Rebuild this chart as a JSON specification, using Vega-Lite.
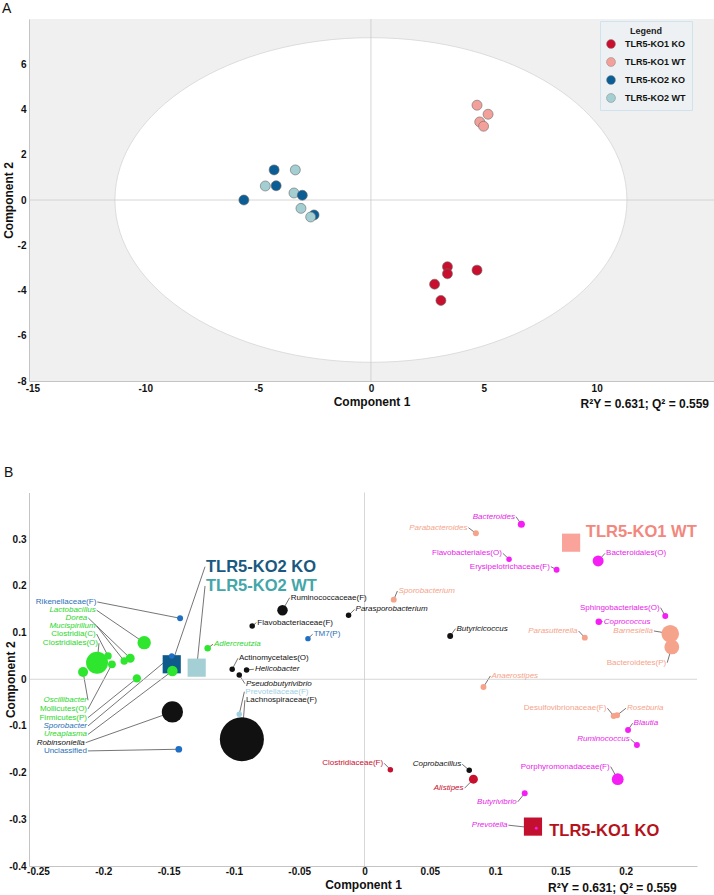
{
  "$schema": "https://vega.github.io/schema/vega-lite/v6.json",
  "background": "white",
  "padding": {"left": 2, "top": 1, "right": 0, "bottom": 0},
  "bounds": "flush",
  "spacing": 111.5,
  "config": {
    "font": "Liberation Sans",
    "axis": {"labelFont": "Liberation Sans", "labelFontWeight": "bold", "labelFontSize": 10, "labelColor": "#111", "titleFont": "Liberation Sans", "titleFontWeight": "bold", "titleFontSize": 12, "titleColor": "#111", "ticks": false, "grid": false, "domainColor": "#c4c4c4"},
    "title": {"font": "Liberation Sans", "color": "#111"},
    "text": {"font": "Liberation Sans"}
  },
  "datasets": {
    "a": [
      {"g": "TLR5-KO1 KO", "c1": 3.39, "c2": -2.95},
      {"g": "TLR5-KO1 KO", "c1": 3.39, "c2": -3.26},
      {"g": "TLR5-KO1 KO", "c1": 4.70, "c2": -3.10},
      {"g": "TLR5-KO1 KO", "c1": 2.82, "c2": -3.72},
      {"g": "TLR5-KO1 KO", "c1": 3.10, "c2": -4.44},
      {"g": "TLR5-KO1 WT", "c1": 4.70, "c2": 4.19},
      {"g": "TLR5-KO1 WT", "c1": 5.19, "c2": 3.79},
      {"g": "TLR5-KO1 WT", "c1": 4.82, "c2": 3.45},
      {"g": "TLR5-KO1 WT", "c1": 4.99, "c2": 3.26},
      {"g": "TLR5-KO2 KO", "c1": -4.29, "c2": 1.33},
      {"g": "TLR5-KO2 KO", "c1": -4.20, "c2": 0.63},
      {"g": "TLR5-KO2 KO", "c1": -5.63, "c2": 0.0},
      {"g": "TLR5-KO2 KO", "c1": -2.52, "c2": -0.66},
      {"g": "TLR5-KO2 WT", "c1": -3.35, "c2": 1.33},
      {"g": "TLR5-KO2 WT", "c1": -4.68, "c2": 0.62},
      {"g": "TLR5-KO2 WT", "c1": -3.41, "c2": 0.31},
      {"g": "TLR5-KO2 KO", "c1": -3.04, "c2": 0.21},
      {"g": "TLR5-KO2 WT", "c1": -3.10, "c2": -0.37},
      {"g": "TLR5-KO2 WT", "c1": -2.67, "c2": -0.75}
    ],
    "taxa": [
      {"name": "Rikenellaceae(F)", "grp": "blue", "rank": "o", "side": "l", "x": -0.1412, "y": 0.1306, "vip": 0.35, "lx": -0.2046, "ly": 0.1655},
      {"name": "Lactobacillus", "grp": "green", "rank": "g", "side": "l", "x": -0.1687, "y": 0.0784, "vip": 1.8, "lx": -0.2051, "ly": 0.1478},
      {"name": "Dorea", "grp": "green", "rank": "g", "side": "l", "x": -0.1794, "y": 0.045, "vip": 0.8, "lx": -0.2115, "ly": 0.1312},
      {"name": "Mucispirillum", "grp": "green", "rank": "g", "side": "l", "x": -0.184, "y": 0.039, "vip": 0.55, "lx": -0.2051, "ly": 0.1142},
      {"name": "Clostridia(C)", "grp": "green", "rank": "o", "side": "l", "x": -0.1964, "y": 0.05, "vip": 0.55, "lx": -0.2051, "ly": 0.0968},
      {"name": "Clostridiales(O)", "grp": "green", "rank": "o", "side": "l", "x": -0.2048, "y": 0.0355, "vip": 4.8, "lx": -0.2033, "ly": 0.0771},
      {"name": "Oscillibacter", "grp": "green", "rank": "g", "side": "l", "x": -0.2155, "y": 0.0156, "vip": 1.0, "lx": -0.2117, "ly": -0.045},
      {"name": "Mollicutes(O)", "grp": "green", "rank": "o", "side": "l", "x": -0.1934, "y": 0.032, "vip": 0.6, "lx": -0.2117, "ly": -0.0636},
      {"name": "Firmicutes(P)", "grp": "green", "rank": "o", "side": "l", "x": -0.1743, "y": 0.002, "vip": 0.68, "lx": -0.2117, "ly": -0.0822},
      {"name": "Sporobacter", "grp": "blue", "rank": "g", "side": "l", "x": -0.1476, "y": 0.05, "vip": 0.3, "lx": -0.2117, "ly": -0.1},
      {"name": "Ureaplasma", "grp": "green", "rank": "g", "side": "l", "x": -0.1471, "y": 0.0178, "vip": 1.1, "lx": -0.2117, "ly": -0.1182},
      {"name": "Robinsoniella", "grp": "black", "rank": "g", "side": "l", "x": -0.1471, "y": -0.07, "vip": 4.5, "lx": -0.2135, "ly": -0.1358},
      {"name": "Unclassified", "grp": "blue", "rank": "o", "side": "l", "x": -0.1422, "y": -0.1499, "vip": 0.45, "lx": -0.2117, "ly": -0.1535},
      {"name": "Adlercreutzia", "grp": "green", "rank": "g", "side": "r", "x": -0.1201, "y": 0.0664, "vip": 0.42, "lx": -0.116, "ly": 0.075},
      {"name": "Ruminococcaceae(F)", "grp": "black", "rank": "o", "side": "r", "x": -0.0628, "y": 0.1477, "vip": 1.1, "lx": -0.0573, "ly": 0.1747},
      {"name": "Flavobacteriaceae(F)", "grp": "black", "rank": "o", "side": "r", "x": -0.086, "y": 0.1141, "vip": 0.3, "lx": -0.0828, "ly": 0.1212},
      {"name": "Parasporobacterium", "grp": "black", "rank": "g", "side": "r", "x": -0.0122, "y": 0.137, "vip": 0.3, "lx": -0.0076, "ly": 0.1495},
      {"name": "TM7(P)", "grp": "blue", "rank": "o", "side": "r", "x": -0.0433, "y": 0.087, "vip": 0.3, "lx": -0.0397, "ly": 0.0964},
      {"name": "Actinomycetales(O)", "grp": "black", "rank": "o", "side": "r", "x": -0.1013, "y": 0.0214, "vip": 0.3, "lx": -0.0969, "ly": 0.045},
      {"name": "Helicobacter", "grp": "black", "rank": "g", "side": "r", "x": -0.0903, "y": 0.02, "vip": 0.3, "lx": -0.0847, "ly": 0.0214},
      {"name": "Pseudobutyrivibrio", "grp": "black", "rank": "g", "side": "r", "x": -0.0959, "y": 0.0092, "vip": 0.3, "lx": -0.0916, "ly": -0.0094},
      {"name": "Prevotellaceae(F)", "grp": "lightblue", "rank": "o", "side": "r", "x": -0.0959, "y": -0.075, "vip": 0.3, "lx": -0.092, "ly": -0.0268},
      {"name": "Lachnospiraceae(F)", "grp": "black", "rank": "o", "side": "r", "x": -0.0939, "y": -0.1285, "vip": 19.4, "lx": -0.0916, "ly": -0.0448},
      {"name": "Bacteroides", "grp": "magenta", "rank": "g", "side": "l", "x": 0.1201, "y": 0.3319, "vip": 0.5, "lx": 0.116, "ly": 0.3482},
      {"name": "Parabacteroides", "grp": "salmon", "rank": "g", "side": "l", "x": 0.0853, "y": 0.3126, "vip": 0.35, "lx": 0.0796, "ly": 0.3246},
      {"name": "Flavobacteriales(O)", "grp": "magenta", "rank": "o", "side": "l", "x": 0.1107, "y": 0.257, "vip": 0.3, "lx": 0.1059, "ly": 0.2698},
      {"name": "Erysipelotrichaceae(F)", "grp": "magenta", "rank": "o", "side": "l", "x": 0.1471, "y": 0.2347, "vip": 0.35, "lx": 0.1427, "ly": 0.2411},
      {"name": "Bacteroidales(O)", "grp": "magenta", "rank": "o", "side": "r", "x": 0.1789, "y": 0.2533, "vip": 1.2, "lx": 0.1842, "ly": 0.2698},
      {"name": "Sporobacterium", "grp": "salmon", "rank": "g", "side": "r", "x": 0.0224, "y": 0.1705, "vip": 0.35, "lx": 0.0252, "ly": 0.1891},
      {"name": "Sphingobacteriales(O)", "grp": "magenta", "rank": "o", "side": "l", "x": 0.2303, "y": 0.1355, "vip": 0.35, "lx": 0.2267, "ly": 0.1533},
      {"name": "Coprococcus", "grp": "magenta", "rank": "g", "side": "r", "x": 0.1794, "y": 0.1234, "vip": 0.42, "lx": 0.1824, "ly": 0.1234},
      {"name": "Barnesiella", "grp": "salmon", "rank": "g", "side": "l", "x": 0.2341, "y": 0.0976, "vip": 3.1, "lx": 0.2216, "ly": 0.1034},
      {"name": "Butyricicoccus", "grp": "black", "rank": "g", "side": "r", "x": 0.0656, "y": 0.0927, "vip": 0.35, "lx": 0.0697, "ly": 0.1084},
      {"name": "Parasutterella", "grp": "salmon", "rank": "g", "side": "l", "x": 0.1687, "y": 0.0891, "vip": 0.35, "lx": 0.1639, "ly": 0.1034},
      {"name": "Bacteroidetes(P)", "grp": "salmon", "rank": "o", "side": "l", "x": 0.2353, "y": 0.0692, "vip": 2.2, "lx": 0.2318, "ly": 0.0355},
      {"name": "Anaerostipes", "grp": "salmon", "rank": "g", "side": "r", "x": 0.0911, "y": -0.0165, "vip": 0.35, "lx": 0.0964, "ly": 0.0071},
      {"name": "Desulfovibrionaceae(F)", "grp": "salmon", "rank": "o", "side": "l", "x": 0.1908, "y": -0.0786, "vip": 0.35, "lx": 0.186, "ly": -0.0621},
      {"name": "Roseburia", "grp": "salmon", "rank": "g", "side": "r", "x": 0.1934, "y": -0.0771, "vip": 0.35, "lx": 0.2002, "ly": -0.0621},
      {"name": "Blautia", "grp": "magenta", "rank": "g", "side": "r", "x": 0.2018, "y": -0.1086, "vip": 0.35, "lx": 0.2053, "ly": -0.0942},
      {"name": "Ruminococcus", "grp": "magenta", "rank": "g", "side": "l", "x": 0.2086, "y": -0.1407, "vip": 0.35, "lx": 0.2038, "ly": -0.1285},
      {"name": "Clostridiaceae(F)", "grp": "crimson", "rank": "o", "side": "l", "x": 0.0198, "y": -0.1936, "vip": 0.3, "lx": 0.015, "ly": -0.1799},
      {"name": "Coprobacillus", "grp": "black", "rank": "g", "side": "l", "x": 0.0802, "y": -0.1949, "vip": 0.3, "lx": 0.0748, "ly": -0.182},
      {"name": "Alistipes", "grp": "crimson", "rank": "g", "side": "l", "x": 0.0834, "y": -0.2141, "vip": 0.8, "lx": 0.0766, "ly": -0.2334},
      {"name": "Porphyromonadaceae(F)", "grp": "magenta", "rank": "o", "side": "l", "x": 0.1939, "y": -0.2141, "vip": 1.4, "lx": 0.1885, "ly": -0.1872},
      {"name": "Butyrivibrio", "grp": "magenta", "rank": "g", "side": "l", "x": 0.1227, "y": -0.2441, "vip": 0.35, "lx": 0.1173, "ly": -0.2627},
      {"name": "Prevotella", "grp": "magenta", "rank": "g", "side": "l", "x": 0.1315, "y": -0.3191, "vip": 0.08, "lx": 0.1102, "ly": -0.3126}
    ],
    "groups": [
      {"name": "TLR5-KO2 KO", "x": -0.1476, "y": 0.0321, "lx": -0.1221, "ly": 0.2411, "lead": true},
      {"name": "TLR5-KO2 WT", "x": -0.1285, "y": 0.0248, "lx": -0.1221, "ly": 0.1998, "lead": true},
      {"name": "TLR5-KO1 WT", "x": 0.1582, "y": 0.2925, "lx": 0.1687, "ly": 0.316, "lead": false},
      {"name": "TLR5-KO1 KO", "x": 0.129, "y": -0.3156, "lx": 0.1407, "ly": -0.3248, "lead": false}
    ]
  },
  "vconcat": [
    {
      "width": 685,
      "height": 362,
      "view": {"fill": "#f0f0f0", "stroke": null},
      "title": {"text": "A", "anchor": "start", "fontSize": 14, "fontWeight": "normal", "offset": 3},
      "layer": [
        {
          "data": {"values": [{}]},
          "mark": {"type": "point", "shape": "M-1,0C-1,-0.3502,-0.5523,-0.634,0,-0.634C0.5523,-0.634,1,-0.3502,1,0C1,0.3502,0.5523,0.634,0,0.634C-0.5523,0.634,-1,0.3502,-1,0Z", "size": 262144, "filled": true, "fill": "#ffffff", "stroke": "#d6d6d6", "strokeWidth": 0.8, "opacity": 1},
          "encoding": {"x": {"datum": 0, "type": "quantitative"}, "y": {"datum": 0, "type": "quantitative"}}
        },
        {
          "data": {"values": [{}]},
          "mark": {"type": "rule", "color": "#cccccc", "strokeWidth": 0.8},
          "encoding": {"x": {"datum": 0, "type": "quantitative"}}
        },
        {
          "data": {"values": [{}]},
          "mark": {"type": "rule", "color": "#cccccc", "strokeWidth": 0.8},
          "encoding": {"y": {"datum": 0, "type": "quantitative"}}
        },
        {
          "data": {"name": "a"},
          "mark": {"type": "point", "filled": true, "size": 100, "stroke": "#6a6a6a", "strokeWidth": 0.6, "opacity": 1},
          "encoding": {
            "x": {"field": "c1", "type": "quantitative", "scale": {"domain": [-15.15, 15.2], "nice": false, "zero": false}, "axis": {"title": "Component 1", "values": [-15, -10, -5, 0, 5, 10], "labelExpr": "'' + datum.value", "labelPadding": 2, "titlePadding": 3}},
            "y": {"field": "c2", "type": "quantitative", "scale": {"domain": [-8, 8], "nice": false, "zero": false}, "axis": {"title": "Component 2", "values": [-8, -6, -4, -2, 0, 2, 4, 6], "labelExpr": "'' + datum.value", "labelPadding": 3, "titleX": -21, "titleBaseline": "middle"}},
            "fill": {"field": "g", "type": "nominal", "scale": {"domain": ["TLR5-KO1 KO", "TLR5-KO1 WT", "TLR5-KO2 KO", "TLR5-KO2 WT"], "range": ["#c8102e", "#f4a09a", "#0b5e95", "#a3cfd3"]},
              "legend": {"title": "Legend", "orient": "none", "legendX": 571, "legendY": 2, "direction": "vertical", "fillColor": "#eef1f4", "strokeColor": "#cfe2ee", "padding": 6, "titleFontSize": 9, "titleFontWeight": "bold", "titleAnchor": "middle", "titlePadding": 3, "titleColor": "#222", "labelFontSize": 9, "labelFontWeight": "bold", "labelColor": "#111", "symbolSize": 80, "symbolType": "circle", "symbolStrokeColor": "#888", "symbolStrokeWidth": 0.5, "rowPadding": 6, "labelOffset": 9}}
          }
        },
        {
          "data": {"values": [{}]},
          "mark": {"type": "text", "align": "right", "baseline": "middle", "dy": 23, "fontSize": 12, "fontWeight": "bold", "color": "#111", "text": "R²Y = 0.631; Q² = 0.559"},
          "encoding": {"x": {"datum": 14.98, "type": "quantitative"}, "y": {"datum": -8, "type": "quantitative"}}
        }
      ]
    },
    {
      "width": 668,
      "height": 373.5,
      "view": {"stroke": null},
      "title": {"text": "B", "anchor": "start", "fontSize": 14, "fontWeight": "normal", "offset": 12},
      "resolve": {"scale": {"color": "independent"}},
      "layer": [
        {
          "data": {"name": "taxa"},
          "mark": {"type": "rule", "color": "#3a3a3a", "strokeWidth": 0.7},
          "encoding": {
            "x": {"field": "x", "type": "quantitative", "scale": {"domain": [-0.2569, 0.2546], "nice": false, "zero": false}, "axis": {"title": "Component 1", "values": [-0.25, -0.2, -0.15, -0.1, -0.05, 0, 0.05, 0.1, 0.15, 0.2], "labelExpr": "'' + datum.value", "labelPadding": 0, "titlePadding": 3}},
            "y": {"field": "y", "type": "quantitative", "scale": {"domain": [-0.4, 0.4], "nice": false, "zero": false}, "axis": {"title": "Component 2", "values": [-0.4, -0.3, -0.2, -0.1, 0, 0.1, 0.2, 0.3], "labelExpr": "'' + datum.value", "labelPadding": 3, "titleX": -19, "titleBaseline": "middle"}},
            "x2": {"field": "lx"},
            "y2": {"field": "ly"}
          }
        },
        {
          "data": {"name": "groups"},
          "transform": [{"filter": "datum.lead"}],
          "mark": {"type": "rule", "color": "#3a3a3a", "strokeWidth": 0.7},
          "encoding": {"x": {"field": "x", "type": "quantitative"}, "y": {"field": "y", "type": "quantitative"}, "x2": {"field": "lx"}, "y2": {"field": "ly"}}
        },
        {
          "data": {"values": [{}]},
          "mark": {"type": "rule", "color": "#cccccc", "strokeWidth": 0.8},
          "encoding": {"x": {"datum": 0, "type": "quantitative"}}
        },
        {
          "data": {"values": [{}]},
          "mark": {"type": "rule", "color": "#cccccc", "strokeWidth": 0.8},
          "encoding": {"y": {"datum": 0, "type": "quantitative"}}
        },
        {
          "data": {"name": "groups"},
          "mark": {"type": "point", "shape": "square", "filled": true, "size": 330, "opacity": 1},
          "encoding": {
            "x": {"field": "x", "type": "quantitative"},
            "y": {"field": "y", "type": "quantitative"},
            "color": {"field": "name", "type": "nominal", "scale": {"domain": ["TLR5-KO1 KO", "TLR5-KO1 WT", "TLR5-KO2 KO", "TLR5-KO2 WT"], "range": ["#c3102f", "#f9a39b", "#0e5a8a", "#a4cfd4"]}, "legend": null}
          }
        },
        {
          "data": {"name": "taxa"},
          "mark": {"type": "circle", "opacity": 1},
          "encoding": {
            "x": {"field": "x", "type": "quantitative"},
            "y": {"field": "y", "type": "quantitative"},
            "size": {"field": "vip", "type": "quantitative", "scale": {"domain": [0, 20], "range": [0, 2000]}, "legend": null},
            "color": {"field": "grp", "type": "nominal", "scale": {"domain": ["green", "blue", "black", "lightblue", "salmon", "magenta", "crimson"], "range": ["#2ee62e", "#1f6fc4", "#111111", "#9fcfe3", "#f5a38a", "#f51ff5", "#c8102e"]}, "legend": null}
          }
        },
        {
          "data": {"name": "taxa"},
          "transform": [{"filter": "datum.side == 'l' && datum.rank == 'g'"}],
          "mark": {"type": "text", "align": "right", "baseline": "middle", "dx": -1, "fontSize": 8, "fontStyle": "italic"},
          "encoding": {
            "x": {"field": "lx", "type": "quantitative"},
            "y": {"field": "ly", "type": "quantitative"},
            "text": {"field": "name"},
            "color": {"field": "grp", "type": "nominal", "scale": {"domain": ["green", "blue", "black", "lightblue", "salmon", "magenta", "crimson"], "range": ["#2ad62a", "#2a6fb8", "#111111", "#9fcfe3", "#f5a38a", "#e81ce8", "#c8102e"]}, "legend": null}
          }
        },
        {
          "data": {"name": "taxa"},
          "transform": [{"filter": "datum.side == 'l' && datum.rank == 'o'"}],
          "mark": {"type": "text", "align": "right", "baseline": "middle", "dx": -1, "fontSize": 8},
          "encoding": {
            "x": {"field": "lx", "type": "quantitative"},
            "y": {"field": "ly", "type": "quantitative"},
            "text": {"field": "name"},
            "color": {"field": "grp", "type": "nominal", "scale": {"domain": ["green", "blue", "black", "lightblue", "salmon", "magenta", "crimson"], "range": ["#2ad62a", "#2a6fb8", "#111111", "#9fcfe3", "#f5a38a", "#e81ce8", "#c8102e"]}, "legend": null}
          }
        },
        {
          "data": {"name": "taxa"},
          "transform": [{"filter": "datum.side == 'r' && datum.rank == 'g'"}],
          "mark": {"type": "text", "align": "left", "baseline": "middle", "dx": 1, "fontSize": 8, "fontStyle": "italic"},
          "encoding": {
            "x": {"field": "lx", "type": "quantitative"},
            "y": {"field": "ly", "type": "quantitative"},
            "text": {"field": "name"},
            "color": {"field": "grp", "type": "nominal", "scale": {"domain": ["green", "blue", "black", "lightblue", "salmon", "magenta", "crimson"], "range": ["#2ad62a", "#2a6fb8", "#111111", "#9fcfe3", "#f5a38a", "#e81ce8", "#c8102e"]}, "legend": null}
          }
        },
        {
          "data": {"name": "taxa"},
          "transform": [{"filter": "datum.side == 'r' && datum.rank == 'o'"}],
          "mark": {"type": "text", "align": "left", "baseline": "middle", "dx": 1, "fontSize": 8},
          "encoding": {
            "x": {"field": "lx", "type": "quantitative"},
            "y": {"field": "ly", "type": "quantitative"},
            "text": {"field": "name"},
            "color": {"field": "grp", "type": "nominal", "scale": {"domain": ["green", "blue", "black", "lightblue", "salmon", "magenta", "crimson"], "range": ["#2ad62a", "#2a6fb8", "#111111", "#9fcfe3", "#f5a38a", "#e81ce8", "#c8102e"]}, "legend": null}
          }
        },
        {
          "data": {"name": "groups"},
          "mark": {"type": "text", "align": "left", "baseline": "middle", "dx": 1, "fontSize": 16.5, "fontWeight": "bold"},
          "encoding": {
            "x": {"field": "lx", "type": "quantitative"},
            "y": {"field": "ly", "type": "quantitative"},
            "text": {"field": "name"},
            "color": {"field": "name", "type": "nominal", "scale": {"domain": ["TLR5-KO1 KO", "TLR5-KO1 WT", "TLR5-KO2 KO", "TLR5-KO2 WT"], "range": ["#b5121b", "#f2877d", "#19597f", "#43a6a9"]}, "legend": null}
          }
        },
        {
          "data": {"values": [{}]},
          "mark": {"type": "text", "align": "right", "baseline": "middle", "dy": 22, "fontSize": 12, "fontWeight": "bold", "color": "#111", "text": "R²Y = 0.631; Q² = 0.559"},
          "encoding": {"x": {"datum": 0.239, "type": "quantitative"}, "y": {"datum": -0.4, "type": "quantitative"}}
        }
      ]
    }
  ]
}
